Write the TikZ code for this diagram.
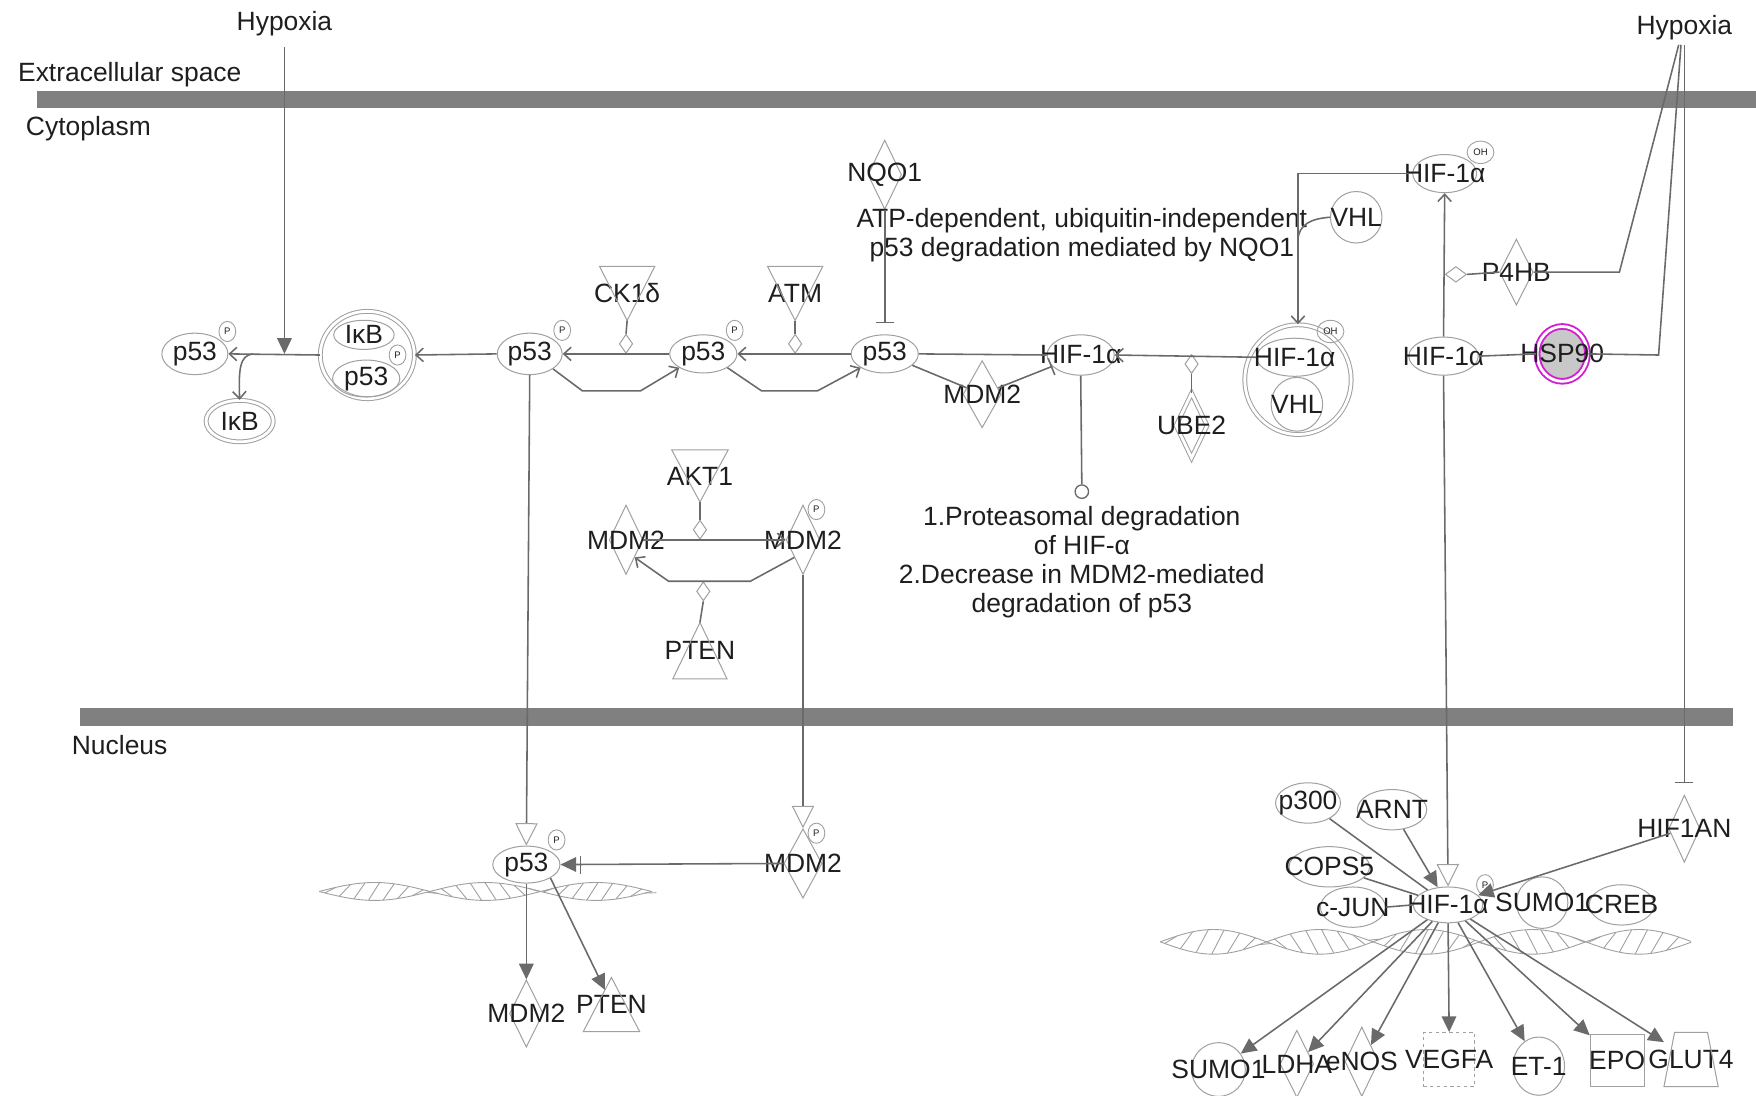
\documentclass[tikz,border=0pt]{standalone}
\usepackage{fontspec}
\setmainfont{Liberation Sans}
\usetikzlibrary{shapes.geometric,arrows.meta,calc}
\definecolor{lc}{HTML}{6A6A6A}
\definecolor{sc}{HTML}{A0A0A0}
\definecolor{mc}{HTML}{808080}
\definecolor{tc}{HTML}{1E1E1E}
\definecolor{hspfill}{HTML}{C8C8C8}
\definecolor{hspring}{HTML}{D21ED2}
\newcommand\nfont{\fontsize{23.6}{26}\selectfont}
\newcommand\bfont{\fontsize{8.5}{8.5}\selectfont}
\begin{document}
\begin{tikzpicture}[x=1pt,y=-1pt,
  lbl/.style={font=\nfont, text=tc, inner sep=0pt},
  every label/.style={font=\nfont, text=tc, inner sep=0pt},
  ell/.style 2 args={ellipse, draw=sc, line width=0.9pt, minimum width=#1, minimum height=#2, inner sep=0pt},
  dia/.style 2 args={diamond, draw=sc, line width=0.9pt, minimum width=#1, minimum height=#2, inner sep=0pt},
  box/.style 2 args={rectangle, minimum width=#1, minimum height=#2, inner sep=0pt},
  pb/.style={ellipse, draw=sc, line width=0.8pt, minimum width=15, minimum height=18, inner sep=0pt, font=\bfont, text=tc},
  ohb/.style={ellipse, draw=sc, line width=0.8pt, minimum width=24, minimum height=20, inner sep=0pt, font=\bfont, text=tc},
  smd/.style={diamond, draw=sc, line width=0.9pt, minimum width=12, minimum height=17, inner sep=0pt},
  cx/.style={double, double distance=2.5pt},
  shp/.style={draw=sc, line width=0.9pt},
  ln/.style={draw=lc, line width=1.4pt},
  barb/.style={-{Straight Barb[length=6.5pt,width=12pt]}},
  fa/.style={-{Triangle[length=14pt,width=13pt]}},
  oa/.style={-{Triangle[open,length=20pt,width=20pt,color=sc,line width=0.9pt]}},
  inh/.style={-{Bar[width=16pt]}},
  helixs/.style={draw=sc, line width=0.8pt},
]
\useasboundingbox (0,0) rectangle (1568,978);
% membranes
\fill[mc] (33,81) rectangle (1568,96);
\fill[mc] (71,632) rectangle (1547,648);
% DNA helices
\draw[helixs] plot[domain=285:582, samples=150, smooth] (\x,{796+8*sin(1.82*(\x-285))});
\draw[helixs] plot[domain=285:582, samples=150, smooth] (\x,{796-8*sin(1.82*(\x-285))});
\foreach \h in {290,303,...,576} {
  \draw[helixs] (\h,{796+8*sin(1.82*(\h-285))}) -- ({\h+10},{796-8*sin(1.82*(\h+10-285))});
}
\draw[helixs] plot[domain=1036:1510, samples=220, smooth] (\x,{841+11*sin(1.8947*(\x-1036))});
\draw[helixs] plot[domain=1036:1510, samples=220, smooth] (\x,{841-11*sin(1.8947*(\x-1036))});
\foreach \h in {1040,1054,...,1500} {
  \draw[helixs] (\h,{841+11*sin(1.8947*(\h-1036))}) -- ({\h+11},{841-11*sin(1.8947*(\h+11-1036))});
}
% compartment labels
\node[lbl, anchor=west] (ecs) at (16,67) {Extracellular space};
\node[lbl, anchor=west] (cyto) at (23,115) {Cytoplasm};
\node[lbl, anchor=west] (nucl) at (64,665) {Nucleus};
\node[lbl] (hypL) at (254,21) {Hypoxia};
\node[lbl] (hypR) at (1504,25) {Hypoxia};
% left group
\node[ell={59}{37}, label=center:p53] (p53a) at (174,316) {};
\node[pb] (p53aP) at (203,296) {P};
\node[ell={60}{37}, cx, label=center:IκB] (ikb) at (214,376) {};
\node[ell={84}{78}, cx] (cx1) at (328,317) {};
\node[ell={54}{26}, label=center:IκB] (cx1ikb) at (325,299) {};
\node[ell={60}{33}, label=center:p53] (cx1p53) at (327,338) {};
\node[pb] (cx1P) at (355,317) {P};
\node[ell={58}{37}, label=center:p53] (p53b) at (473,316) {};
\node[pb] (p53bP) at (502,295) {P};
\node[ell={60}{34}, label=center:p53] (p53c) at (628,316) {};
\node[pb] (p53cP) at (656,295) {P};
\node[ell={60}{34}, label=center:p53] (p53d) at (790,316) {};
\coordinate (j1) at (254,316);
\coordinate (jb) at (226,316);
% kinases
\node[box={49}{48}, label=center:CK1δ] (ck1) at (560,262) {};
\draw[shp] (ck1.north west) -- (ck1.north east) -- (ck1.south) -- cycle;
\node[smd] (ck1m) at (559,307) {};
\node[box={49}{48}, label=center:ATM] (atm) at (710,262) {};
\draw[shp] (atm.north west) -- (atm.north east) -- (atm.south) -- cycle;
\node[smd] (atmm) at (710,307) {};
\node[dia={30}{62}, label=center:NQO1] (nqo1) at (790,156) {};
\node[lbl, align=center] (atptxt) at (966,210) {ATP-dependent, ubiquitin-independent\\p53 degradation mediated by NQO1};
% HIF middle
\node[ell={60}{36}, label=center:HIF-1α] (hifM) at (965,317) {};
\node[dia={34}{60}, label=center:MDM2] (mdmA) at (877,352) {};
\node[circle, draw=lc, line width=1.2pt, minimum size=12, inner sep=0pt] (degc) at (966,439) {};
\node[lbl, align=center] (degtxt) at (966,502) {1.Proteasomal degradation\\of HIF-α\\2.Decrease in MDM2-mediated\\degradation of p53};
\node[smd] (ube2m) at (1064,325) {};
\node[dia={28}{58}, cx, label=center:UBE2] (ube2) at (1064,380) {};
% HIF/VHL
\node[ell={57}{34}, label=center:HIF-1α] (hifU) at (1290,155) {};
\node[ohb] (hifUoh) at (1322,136) {OH};
\node[ell={46}{46}, label=center:VHL] (vhlT) at (1211,194) {};
\node[ell={95}{98}, cx] (cx2) at (1159,339) {};
\node[ell={68}{34}, label=center:HIF-1α] (hifC) at (1156,319) {};
\node[ohb] (hifCoh) at (1188,296) {OH};
\node[ell={46}{48}, label=center:VHL] (vhlC) at (1158,361) {};
\node[ell={62}{34}, label=center:HIF-1α] (hifL) at (1289,318) {};
\node[ell={45}{49}, draw=hspring, double=white, double distance=2.5pt, fill=hspfill, line width=1.7pt, label=center:HSP90] (hsp) at (1395,316) {};
\node[dia={30}{59}, label=center:P4HB] (p4hb) at (1354,243) {};
\node[diamond, draw=sc, line width=0.9pt, minimum width=19, minimum height=14, inner sep=0pt] (p4hbm) at (1300,245) {};
\coordinate (hs1) at (1499,40);
\coordinate (hs2) at (1501,40);
\coordinate (hs3) at (1504,40);
\coordinate (b1) at (1446,243);
\coordinate (b2) at (1481,317);
% AKT/PTEN group
\node[box={50}{46}, label=center:AKT1] (akt) at (625,425) {};
\draw[shp] (akt.north west) -- (akt.north east) -- (akt.south) -- cycle;
\node[smd] (aktm) at (625,473) {};
\node[dia={30}{62}, label=center:MDM2] (mdmL) at (559,482) {};
\node[dia={30}{62}, label=center:MDM2] (mdmP) at (717,482) {};
\node[pb] (mdmPp) at (729,455) {P};
\node[smd] (ptenm) at (628,528) {};
\node[box={48}{50}, label=center:PTEN] (pten) at (625,581) {};
\draw[shp] (pten.south west) -- (pten.south east) -- (pten.north) -- cycle;
\coordinate (m1) at (670,519);
\coordinate (m2) at (597,519);
% nucleus left
\node[ell={60}{33}, label=center:p53] (p53n) at (470,772) {};
\node[pb] (p53nP) at (497,750) {P};
\node[dia={34}{62}, label=center:MDM2] (mdmN) at (717,771) {};
\node[pb] (mdmNp) at (729,744) {P};
\node[dia={30}{60}, label=center:MDM2] (mdmB) at (470,905) {};
\node[box={50}{48}, label=center:PTEN] (ptB) at (546,897) {};
\draw[shp] (ptB.south west) -- (ptB.south east) -- (ptB.north) -- cycle;
% nucleus right
\node[ell={62}{32}, label=center:HIF-1α] (hifN) at (1293,808) {};
\node[pb] (hifNp) at (1326,790) {P};
\node[ell={58}{36}, label=center:p300] (p300) at (1168,717) {};
\node[ell={62}{36}, label=center:ARNT] (arnt) at (1243,723) {};
\node[ell={72}{36}, label=center:COPS5] (cops5) at (1187,774) {};
\node[ell={58}{36}, label=center:c-JUN] (cjun) at (1208,810) {};
\node[ell={46}{46}, label=center:SUMO1] (sumoA) at (1377,806) {};
\node[ell={58}{36}, label=center:CREB] (creb) at (1448,808) {};
\node[dia={28}{60}, label=center:HIF1AN] (hif1an) at (1504,740) {};
\node[ell={48}{48}, label=center:SUMO1] (sumoB) at (1088,955) {};
\node[dia={30}{60}, label=center:LDHA] (ldha) at (1158,950) {};
\node[dia={30}{62}, label=center:eNOS] (enos) at (1216,948) {};
\node[box={46}{48}, draw=sc, line width=0.9pt, dashed, label=center:VEGFA] (vegfa) at (1294,946) {};
\node[ell={46}{52}, label=center:ET-1] (et1) at (1374,952) {};
\node[box={48}{46}, draw=sc, line width=0.9pt, label=center:EPO] (epo) at (1444,947) {};
\node[box={48}{48}, label=center:GLUT4] (glut) at (1510,946) {};
\draw[shp] (glut.south west) -- (glut.south east) -- ($(glut.north east)+(-9.5,0)$) -- ($(glut.north west)+(9.5,0)$) -- cycle;
% ---------- connectors ----------
\draw[ln, fa, shorten <=10pt] (hypL.south) -- (j1);
\draw[ln, barb] (cx1.west) -- (p53a.east);
\draw[ln, barb] (jb) .. controls (214,317) and (213,330) .. (ikb.north);
\draw[ln, barb] (p53b.west) -- (cx1.east);
\draw[ln, barb] (p53c.west) -- (p53b.east);
\draw[ln, barb] (p53d.west) -- (p53c.east);
\draw[ln, barb] (p53b.south east) -- (520,349) -- (572,349) -- (p53c.south west);
\draw[ln, barb] (p53c.south east) -- (680,349) -- (730,349) -- (p53d.south west);
\draw[ln] (ck1.south) -- (ck1m.north);
\draw[ln] (atm.south) -- (atmm.north);
\draw[ln, inh, shorten >=10pt] (nqo1.south) -- (p53d.north);
\draw[ln] (p53d.east) -- (hifM.west);
\draw[ln] (p53d) -- (mdmA);
\draw[ln, inh] (mdmA) -- (hifM);
\draw[ln] (hifM.south) -- (degc.north);
\draw[ln, barb] (hifC.west) -- (hifM.east);
\draw[ln] (ube2m.south) -- (ube2.north);
\draw[ln, barb] (hifU.west) -| (cx2.north);
\draw[ln] (vhlT.west) .. controls (1172,195) and (1159,200) .. (1159,215);
\draw[ln, barb] (hifL.north) -- (hifU.south);
\draw[ln] (hifL.east) -- (hsp.west);
\draw[ln] (p4hb.west) -- (p4hbm.east);
\draw[ln] (hs1) -- (b1) -- (p4hb.east);
\draw[ln] (hs2) -- (b2) -- (hsp.east);
\draw[ln, inh, shorten >=10pt] (hs3) -- (hif1an.north);
% AKT / PTEN
\draw[ln] (akt.south) -- (aktm.north);
\draw[ln, barb] (mdmL.east) -- (mdmP.west);
\draw[ln, barb] (mdmP.south west) -- (m1) -- (m2) -- (mdmL.south east);
\draw[ln] (ptenm.south) -- (pten.north);
% translocations
\draw[ln, oa] (p53b.south) -- (p53n.north);
\draw[ln, oa] (mdmP.south) -- (mdmN.north);
\draw[ln, oa] (hifL.south) -- (hifN.north);
% nucleus left
\draw[ln, fa] (mdmN.west) -- (p53n.east);
\draw[ln] ($(p53n.east)+(18,-8)$) -- ++(0,16);
\draw[ln, fa] (p53n.south) -- (mdmB.north);
\draw[ln, fa] (p53n.south east) -- ($(ptB.north)!0.23!(ptB.south west)$);
% nucleus right
\draw[ln] (p300) -- (hifN);
\draw[ln, fa] (arnt) -- (hifN);
\draw[ln] (cops5) -- (hifN);
\draw[ln] (cjun.east) -- (hifN.west);
\draw[ln, fa] (hif1an) -- (hifN);
\draw[ln, fa] (hifN) -- (sumoB);
\draw[ln, fa] (hifN) -- (ldha);
\draw[ln, fa] (hifN) -- (enos);
\draw[ln, fa] (hifN.south) -- (vegfa.north);
\draw[ln, fa] (hifN) -- (et1);
\draw[ln, fa] (hifN) -- (epo);
\draw[ln, fa] (hifN) -- (glut);
\end{tikzpicture}
\end{document}
